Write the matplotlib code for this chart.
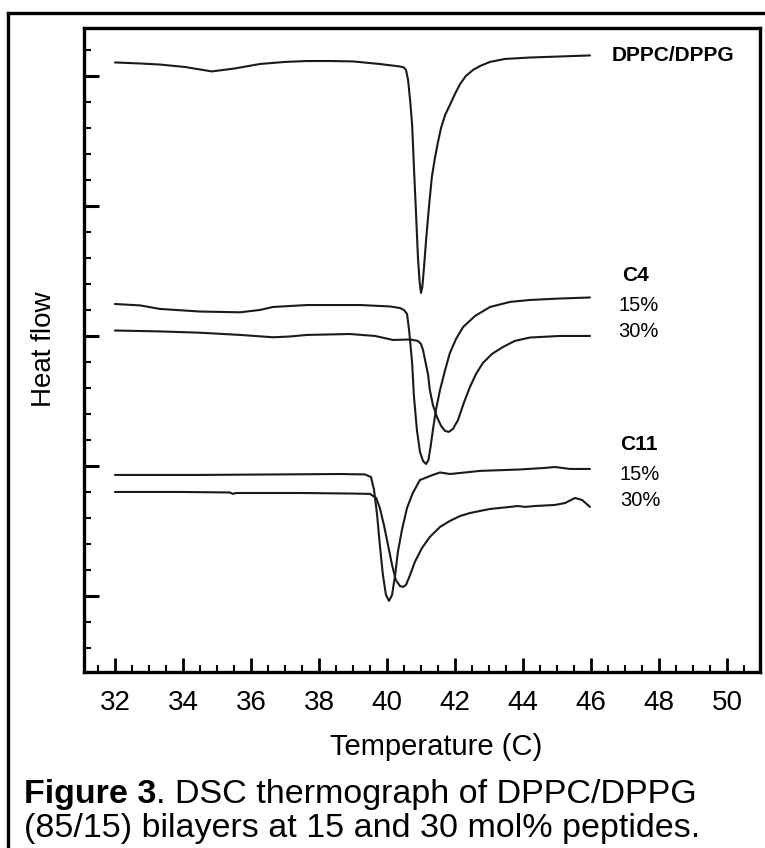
import matplotlib
matplotlib.use("Agg")
import matplotlib.pyplot as plt
from matplotlib.lines import Line2D
from matplotlib.ticker import MultipleLocator, NullFormatter
from matplotlib import font_manager

# ---------------- data ----------------
T_dppc = [32.00, 32.74, 33.32, 34.06, 34.85, 35.53, 36.26, 37.00, 37.65, 38.32, 39.00, 39.79,
          40.38, 40.50, 40.56, 40.62, 40.68, 40.74, 40.79, 40.85, 40.91, 40.96, 41.00, 41.04,
          41.09, 41.15, 41.24, 41.32, 41.41, 41.50, 41.59, 41.71, 41.85, 42.00, 42.15, 42.32,
          42.53, 42.74, 43.03, 43.47, 44.21, 45.09, 45.97]
hf_dppc = [4.104, 4.096, 4.088, 4.069, 4.035, 4.058, 4.092, 4.108, 4.115, 4.115, 4.112, 4.092,
           4.073, 4.065, 4.046, 3.969, 3.815, 3.623, 3.315, 2.969, 2.608, 2.415, 2.331, 2.377,
           2.531, 2.738, 3.008, 3.223, 3.369, 3.492, 3.600, 3.700, 3.777, 3.862, 3.938, 4.000,
           4.046, 4.077, 4.108, 4.131, 4.142, 4.150, 4.158]

T_c4_15 = [32.00, 32.74, 33.32, 34.50, 35.68, 36.26, 36.65, 37.65, 39.21, 40.09, 40.38, 40.50,
           40.59, 40.65, 40.74, 40.79, 40.88, 40.97, 41.06, 41.15, 41.22, 41.29, 41.35, 41.44,
           41.56, 41.71, 41.85, 42.03, 42.24, 42.59, 43.03, 43.62, 44.21, 45.09, 45.97]
hf_c4_15 = [2.246, 2.235, 2.208, 2.188, 2.182, 2.200, 2.223, 2.238, 2.238, 2.227, 2.215, 2.200,
            2.169, 2.046, 1.792, 1.546, 1.277, 1.108, 1.038, 1.015, 1.046, 1.162, 1.277, 1.431,
            1.585, 1.738, 1.869, 1.977, 2.069, 2.154, 2.223, 2.262, 2.277, 2.288, 2.296]

T_c4_30 = [32.00, 33.32, 34.50, 35.68, 36.65, 37.15, 37.65, 38.91, 39.65, 40.18, 40.68, 40.91,
           41.00, 41.06, 41.12, 41.21, 41.26, 41.35, 41.47, 41.59, 41.71, 41.82, 41.94, 42.09,
           42.26, 42.44, 42.62, 42.82, 43.09, 43.41, 43.76, 44.21, 45.09, 45.97]
hf_c4_30 = [2.042, 2.035, 2.025, 2.008, 1.990, 1.996, 2.008, 2.015, 2.000, 1.969, 1.973, 1.962,
            1.938, 1.892, 1.815, 1.700, 1.585, 1.469, 1.377, 1.308, 1.269, 1.262, 1.285, 1.354,
            1.485, 1.608, 1.708, 1.792, 1.862, 1.915, 1.962, 1.988, 2.000, 2.000]

T_c11_15 = [32.00, 34.50, 36.85, 38.62, 39.35, 39.53, 39.62, 39.71, 39.79, 39.88, 39.97, 40.06,
            40.15, 40.24, 40.32, 40.44, 40.59, 40.76, 40.97, 41.35, 41.56, 41.85, 42.15, 42.74,
            43.91, 44.65, 44.94, 45.38, 45.97]
hf_c11_15 = [0.931, 0.931, 0.935, 0.938, 0.935, 0.915, 0.815, 0.623, 0.392, 0.162, 0.008, -0.038,
             0.008, 0.162, 0.338, 0.508, 0.677, 0.792, 0.892, 0.931, 0.950, 0.938, 0.946, 0.962,
             0.973, 0.985, 0.992, 0.977, 0.977]

T_c11_30 = [32.00, 33.91, 35.38, 35.47, 35.56, 37.44, 38.91, 39.50, 39.68, 39.79, 39.91, 40.03,
            40.15, 40.26, 40.38, 40.47, 40.56, 40.68, 40.82, 41.03, 41.26, 41.56, 41.85, 42.15,
            42.44, 42.74, 43.03, 43.32, 43.62, 43.85, 44.06, 44.35, 44.65, 44.94, 45.24, 45.53,
            45.74, 45.97]
hf_c11_30 = [0.800, 0.800, 0.796, 0.785, 0.792, 0.792, 0.788, 0.785, 0.754, 0.677, 0.546, 0.392,
             0.238, 0.123, 0.077, 0.069, 0.085, 0.162, 0.262, 0.369, 0.454, 0.531, 0.577, 0.615,
             0.638, 0.654, 0.669, 0.677, 0.685, 0.692, 0.685, 0.692, 0.696, 0.700, 0.715, 0.754,
             0.738, 0.685]

x_ticks = [32, 34, 36, 38, 40, 42, 44, 46, 48, 50]
x_ticklabels = ["32", "34", "36", "38", "40", "42", "44", "46", "48", "50"]
y_ticks = [0, 1, 2, 3, 4]

series_labels = [("DPPC/DPPG", True, 46.62, 4.154),
                 ("C4", True, 46.91, 2.462),
                 ("15%", False, 46.82, 2.231),
                 ("30%", False, 46.79, 2.031),
                 ("C11", True, 46.85, 1.162),
                 ("15%", False, 46.85, 0.931),
                 ("30%", False, 46.85, 0.731)]

# ---------------- fonts ----------------
avail = {f.name for f in font_manager.fontManager.ttflist}
base = "Liberation Sans" if "Liberation Sans" in avail else "DejaVu Sans"
plt.rcParams["font.family"] = [base, "DejaVu Sans"]

W, H = 765, 848
fig = plt.figure(figsize=(W / 100, H / 100), dpi=100)

def fx(px):
    return px / W

def fy(py):
    return 1 - py / H

ax_l, ax_r, ax_t, ax_b = 84, 760, 28, 672
ax = fig.add_axes([fx(ax_l), fy(ax_b), (ax_r - ax_l) / W, (ax_b - ax_t) / H])

lw = 1.5
for T, hf in [(T_dppc, hf_dppc), (T_c4_15, hf_c4_15), (T_c4_30, hf_c4_30),
              (T_c11_15, hf_c11_15), (T_c11_30, hf_c11_30)]:
    ax.plot(T, hf, color="#1a1a1a", lw=lw, solid_joinstyle="round", solid_capstyle="round")

ax.set_xlim(31.09, 50.97)
ax.set_ylim(-0.585, 4.369)

ax.set_xticks(x_ticks)
ax.set_xticklabels(x_ticklabels, fontsize=20)
ax.xaxis.set_minor_locator(MultipleLocator(0.5))
ax.set_yticks(y_ticks)
ax.yaxis.set_minor_locator(MultipleLocator(0.2))
ax.yaxis.set_major_formatter(NullFormatter())

ax.tick_params(which="both", direction="in", top=False, right=False)
ax.tick_params(axis="x", which="major", length=10, width=2.0, pad=13)
ax.tick_params(axis="x", which="minor", length=5, width=1.5)
ax.tick_params(axis="y", which="major", length=11, width=2.2)
ax.tick_params(axis="y", which="minor", length=5, width=1.5)

for sp in ax.spines.values():
    sp.set_linewidth(2.4)

ax.set_xlabel("Temperature (C)", fontsize=21, va="center")
ax.xaxis.set_label_coords((436 - ax_l) / (ax_r - ax_l), (ax_b - 747) / (ax_b - ax_t))
ax.set_ylabel("Heat flow", fontsize=20, va="center")
ax.yaxis.set_label_coords((44 - ax_l) / (ax_r - ax_l), (ax_b - 349) / (ax_b - ax_t))

for txt, bold, xt, yt in series_labels:
    ax.text(xt, yt, txt, fontsize=15 if bold else 14.5,
            fontweight="bold" if bold else "normal", ha="left", va="center")

# outer frame (left and top edges visible)
fig.add_artist(Line2D([fx(8), fx(8)], [fy(13), fy(H + 5)], transform=fig.transFigure,
                      color="black", lw=2.4))
fig.add_artist(Line2D([fx(8), fx(W + 5)], [fy(13), fy(13)], transform=fig.transFigure,
                      color="black", lw=2.4))

# caption
cap_size = 24.5
t1 = fig.text(fx(24), fy(794), "Figure 3", fontsize=cap_size, fontweight="bold",
              ha="left", va="center")
fig.add_artist(plt.Annotation(". DSC thermograph of DPPC/DPPG", xy=(1, 0), xycoords=t1,
                              fontsize=cap_size, ha="left", va="bottom"))
fig.text(fx(24), fy(829), "(85/15) bilayers at 15 and 30 mol% peptides.", fontsize=cap_size,
         ha="left", va="center")

fig.savefig("out.png", dpi=100)
